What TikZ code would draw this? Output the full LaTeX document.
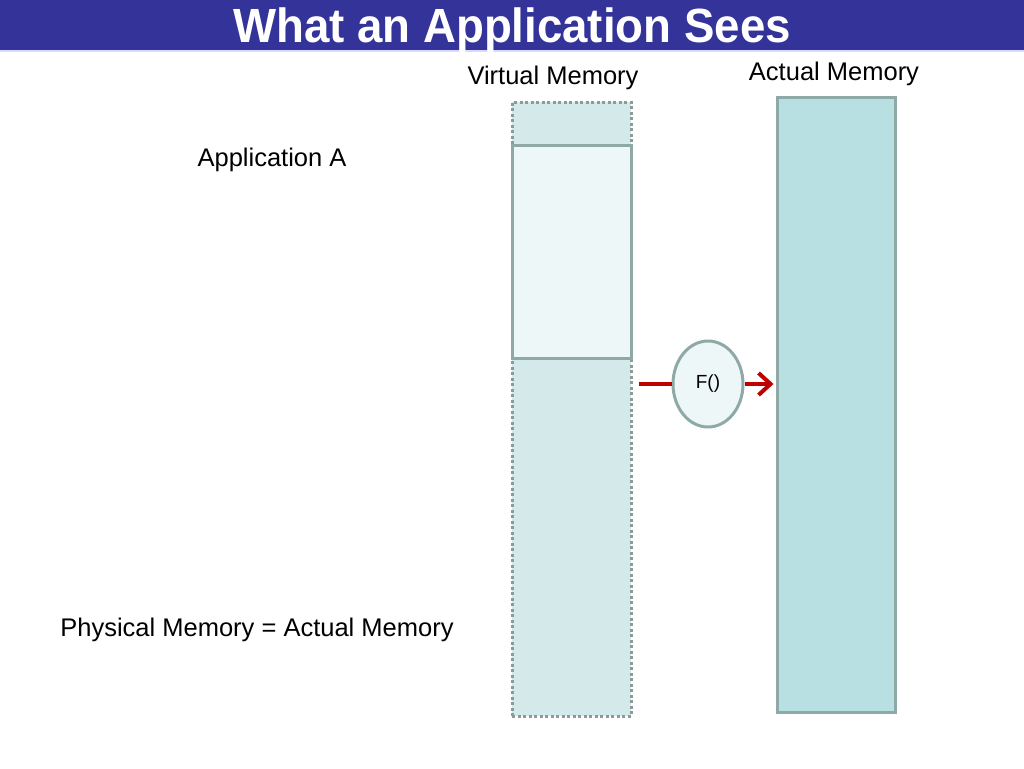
\documentclass[tikz,border=0pt]{standalone}
\usepackage{fontspec}
\setmainfont{Liberation Sans}
\usetikzlibrary{arrows.meta,shapes.geometric}

\definecolor{titleblue}{HTML}{333399}
\definecolor{virtfill}{HTML}{D3E9EA}
\definecolor{actfill}{HTML}{B8DFE1}
\definecolor{palefill}{HTML}{EEF7F8}
\definecolor{edgegray}{HTML}{8FA9A6}
\definecolor{dotgray}{HTML}{8C9A9A}
\definecolor{maparrow}{HTML}{C00000}

\begin{document}
\begin{tikzpicture}[x=1pt,y=-1pt,
    label/.style={font=\fontsize{25.5}{30}\selectfont,inner sep=0pt},
    memcol/.style={draw=edgegray,line width=3pt,inner sep=0pt},
    mapline/.style={draw=maparrow,line width=4pt}]
      \useasboundingbox (0,0) rectangle (1024,768);
      \fill[titleblue] (0,0) rectangle (1024,50);
      \draw[blue!15,line width=1.5pt] (0,51) -- (1024,51);
      \node[font=\fontsize{48}{52}\selectfont\bfseries,text=white,inner sep=0pt,anchor=base] (title) at (512,42)
        {\scalebox{0.95}[1]{What an Application Sees}};

      \node[label] (virtlabel) at (553,78) {Virtual Memory};
      \node[label] (actlabel) at (834,74) {Actual Memory};
      \node[label] (applabel) at (272,160) {Application A};
      \node[label] (physlabel) at (257,630) {Physical Memory = Actual Memory};

      \node[memcol,draw=dotgray,fill=virtfill,dash pattern=on 3pt off 2.5pt,
        minimum width=119pt,minimum height=614pt] (virt) at (571.5,409) {};
      \node[memcol,fill=palefill,minimum width=119pt,minimum height=213pt] (appa) at (571.5,251.5) {};
      \node[memcol,fill=actfill,minimum width=118pt,minimum height=615pt] (act) at (836,404.5) {};
      \node[memcol,ellipse,fill=palefill,minimum width=70pt,minimum height=86pt,
        font=\fontsize{19}{23}\selectfont] (func) at (708,384) {F()};

      \coordinate (mapstart) at ([xshift=-33pt]func.west);
      \coordinate (mapend) at (act.west |- func.east);
      \draw[mapline] (mapstart) -- (func.west);
      \draw[mapline,-{Straight Barb[length=12pt,width=22pt]}] (func.east) -- ([xshift=-2pt]mapend);
\end{tikzpicture}
\end{document}
